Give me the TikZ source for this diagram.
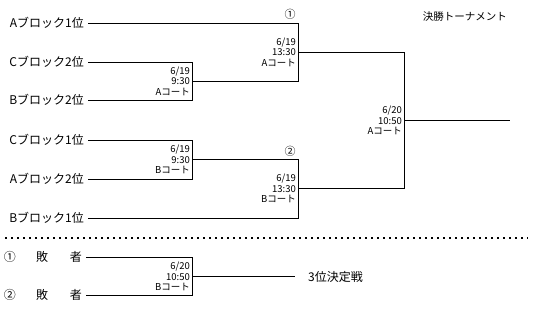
\documentclass[tikz,border=0pt]{standalone}
\usepackage{fontspec}
\setmainfont{Noto Sans CJK JP}
\usepackage{tikz}
\tikzset{
  team/.style={anchor=east, inner xsep=4pt, inner ysep=0pt, font=\fontsize{12}{12}\selectfont},
  info/.style={anchor=east, align=right, inner xsep=2pt, inner ysep=0pt, font=\fontsize{9.5}{10.5}\selectfont},
  circnum/.style={inner sep=0pt, font=\fontsize{11}{11}\selectfont},
  bracket/.style={line width=0.9pt}
}

\begin{document}
\begin{tikzpicture}[x=1pt,y=-1pt]
\useasboundingbox (0,0) rectangle (535,319);
% Teams
\node[team] (a1) at (88,23) {Aブロック1位};
\node[team] (c2) at (88,62) {Cブロック2位};
\node[team] (b2) at (88,100) {Bブロック2位};
\node[team] (c1) at (88,140) {Cブロック1位};
\node[team] (a2) at (88,179) {Aブロック2位};
\node[team] (b1) at (88,218) {Bブロック1位};
\node[anchor=east, inner sep=0pt, font=\fontsize{10.5}{10.5}\selectfont] (title) at (507,17) {決勝トーナメント};
% Bracket corners
\coordinate (q1t) at (192,62);
\coordinate (q1b) at (192,100);
\coordinate (q1o) at (192,81);
\coordinate (q2t) at (192,140);
\coordinate (q2b) at (192,179);
\coordinate (q2o) at (192,159.5);
\coordinate (s1t) at (298,23);
\coordinate (s1b) at (298,81);
\coordinate (s1o) at (298,52);
\coordinate (s2t) at (298,159.5);
\coordinate (s2b) at (298,218);
\coordinate (s2o) at (298,188.5);
\coordinate (ft) at (404,52);
\coordinate (fb) at (404,188.5);
\coordinate (fo) at (404,120.5);
\coordinate (win) at (510,120.5);
% First round
\draw[bracket] (c2.east) -- (q1t) -- (q1b) -- (b2.east);
\draw[bracket] (c1.east) -- (q2t) -- (q2b) -- (a2.east);
% Semi finals
\draw[bracket] (a1.east) -- (s1t) -- (s1b) -- (q1o);
\draw[bracket] (q2o) -- (s2t) -- (s2b) -- (b1.east);
% Final
\draw[bracket] (s1o) -- (ft) -- (fb) -- (s2o);
\draw[bracket] (fo) -- (win);
% Match info
\node[info] (m1) at (q1o) {6/19\\9:30\\Aコート};
\node[info] (m2) at (q2o) {6/19\\9:30\\Bコート};
\node[info] (m3) at (s1o) {6/19\\13:30\\Aコート};
\node[info] (m4) at (s2o) {6/19\\13:30\\Bコート};
\node[info] (m5) at (fo) {6/20\\10:50\\Aコート};
\node[circnum] (n1) at (290,14) {①};
\node[circnum] (n2) at (290,151) {②};
% Separator
\coordinate (sepl) at (5,238);
\coordinate (sepr) at (528,238);
\draw[line width=1.5pt, dash pattern=on 1.5pt off 4.5pt] (sepl) -- (sepr);
% Third place
\node[circnum, font=\fontsize{12}{12}\selectfont] (l1n) at (10,257) {①};
\node[font=\fontsize{12}{12}\selectfont, inner sep=0pt] (l1a) at (42,257) {敗};
\node[team] (l1) at (86,257) {者};
\node[circnum, font=\fontsize{12}{12}\selectfont] (l2n) at (10,295) {②};
\node[font=\fontsize{12}{12}\selectfont, inner sep=0pt] (l2a) at (42,295) {敗};
\node[team] (l2) at (86,295) {者};
\coordinate (t3t) at (192,257);
\coordinate (t3b) at (192,295);
\coordinate (t3o) at (192,276.5);
\node[team, anchor=west, inner xsep=0pt] (third) at (308,276.5) {3位決定戦};
\draw[bracket] (l1.east) -- (t3t) -- (t3b) -- (l2.east);
\draw[bracket] (t3o) -- ([xshift=-13pt]third.west);
\node[info] (m6) at (t3o) {6/20\\10:50\\Bコート};
\end{tikzpicture}
\end{document}
